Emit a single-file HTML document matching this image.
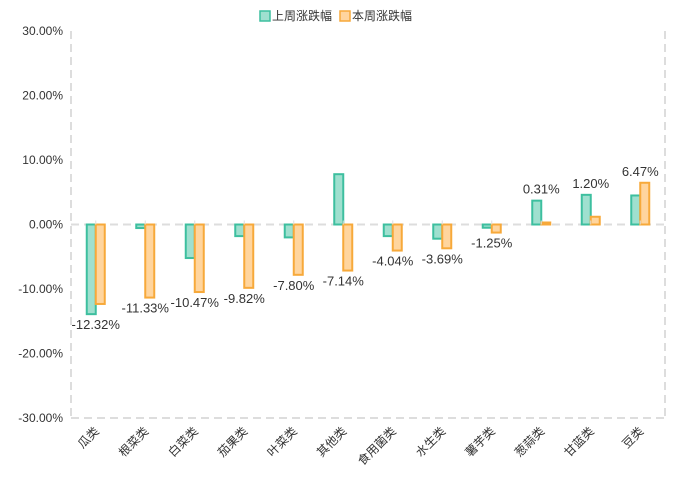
<!DOCTYPE html>
<html><head><meta charset="utf-8"><style>
body{margin:0;background:#fff;}
svg{display:block;font-family:"Liberation Sans","Noto Sans CJK SC",sans-serif;}
</style></head><body>
<svg id="chart" width="681" height="487">
<g id="legend">
<g><rect x="260" y="11" width="10" height="10" fill="#9fe0cf" stroke="#3dbf9f" stroke-width="1.5"/><text x="272" y="20" font-size="12" fill="#333">上周涨跌幅</text></g>
<g><rect x="340" y="11" width="10" height="10" fill="#ffd59e" stroke="#f7a93a" stroke-width="1.5"/><text x="352" y="20" font-size="12" fill="#333">本周涨跌幅</text></g>
</g>
</svg>
<script>
const categories=["瓜类","根菜类","白菜类","茄果类","叶菜类","其他类","食用菌类","水生类","薯芋类","葱蒜类","甘蓝类","豆类"];
const lastWeek=[-13.9,-0.55,-5.2,-1.8,-2.0,7.8,-1.8,-2.2,-0.5,3.7,4.6,4.5];
const thisWeek=[-12.32,-11.33,-10.47,-9.82,-7.80,-7.14,-4.04,-3.69,-1.25,0.31,1.20,6.47];
const yTicks=[30,20,10,0,-10,-20,-30];
const svg=document.getElementById('chart');const NS='http://www.w3.org/2000/svg';
const L=71,R=665,T=31,B=418;
const y=v=>T+(30-v)/60*(B-T);
const bw=(R-L)/categories.length;
const xc=i=>L+bw*(i+0.5);
function mk(tag,attrs,parent){const e=document.createElementNS(NS,tag);for(const k in attrs)e.setAttribute(k,attrs[k]);(parent||svg).appendChild(e);return e;}
let a=mk('line',{x1:L,y1:T,x2:L,y2:B,stroke:'#ddd','stroke-width':2,'stroke-dasharray':'8,5'});


a=mk('line',{x1:R,y1:T,x2:R,y2:B,stroke:'#ddd','stroke-width':2,'stroke-dasharray':'8,5'});


a=mk('line',{x1:L,y1:B,x2:R,y2:B,stroke:'#ddd','stroke-width':2,'stroke-dasharray':'8,5'});


a=mk('line',{x1:L,y1:y(0),x2:R,y2:y(0),stroke:'#ddd','stroke-width':2,'stroke-dasharray':'8,5'});


yTicks.forEach(v=>{const t=mk('text',{x:63,y:y(v)+4,'text-anchor':'end','font-size':12,fill:'#333'});t.textContent=v.toFixed(2)+'%';

});
categories.forEach((c,i)=>{
 const cx=xc(i);
 const v1=lastWeek[i],v2=thisWeek[i];
 let r=mk('rect',{x:cx-9,y:Math.min(y(v1),y(0)),width:9,height:Math.abs(y(v1)-y(0)),fill:'#9fe0cf',stroke:'#3dbf9f','stroke-width':2});
 
 
 r=mk('rect',{x:cx,y:Math.min(y(v2),y(0)),width:9,height:Math.abs(y(v2)-y(0)),fill:'#ffd59e',stroke:'#f7a93a','stroke-width':2});
 
 
 const ly=v2<0?y(Math.min(v1,v2,0))+15:y(Math.max(v1,v2,0))-7;
 const t=mk('text',{x:cx,y:ly,'text-anchor':'middle','font-size':13,fill:'#333'});t.textContent=v2.toFixed(2)+'%';
 
 
 const xl=mk('text',{x:cx+4,y:B+14,'text-anchor':'end','font-size':12,fill:'#333',transform:`rotate(-45 ${cx+4} ${B+14})`});xl.textContent=c;
 
 
 const tk=mk('line',{x1:cx,y1:y(0),x2:cx,y2:y(0)-4,stroke:'#ddd'});
 
 
});
</script>
</body></html>
